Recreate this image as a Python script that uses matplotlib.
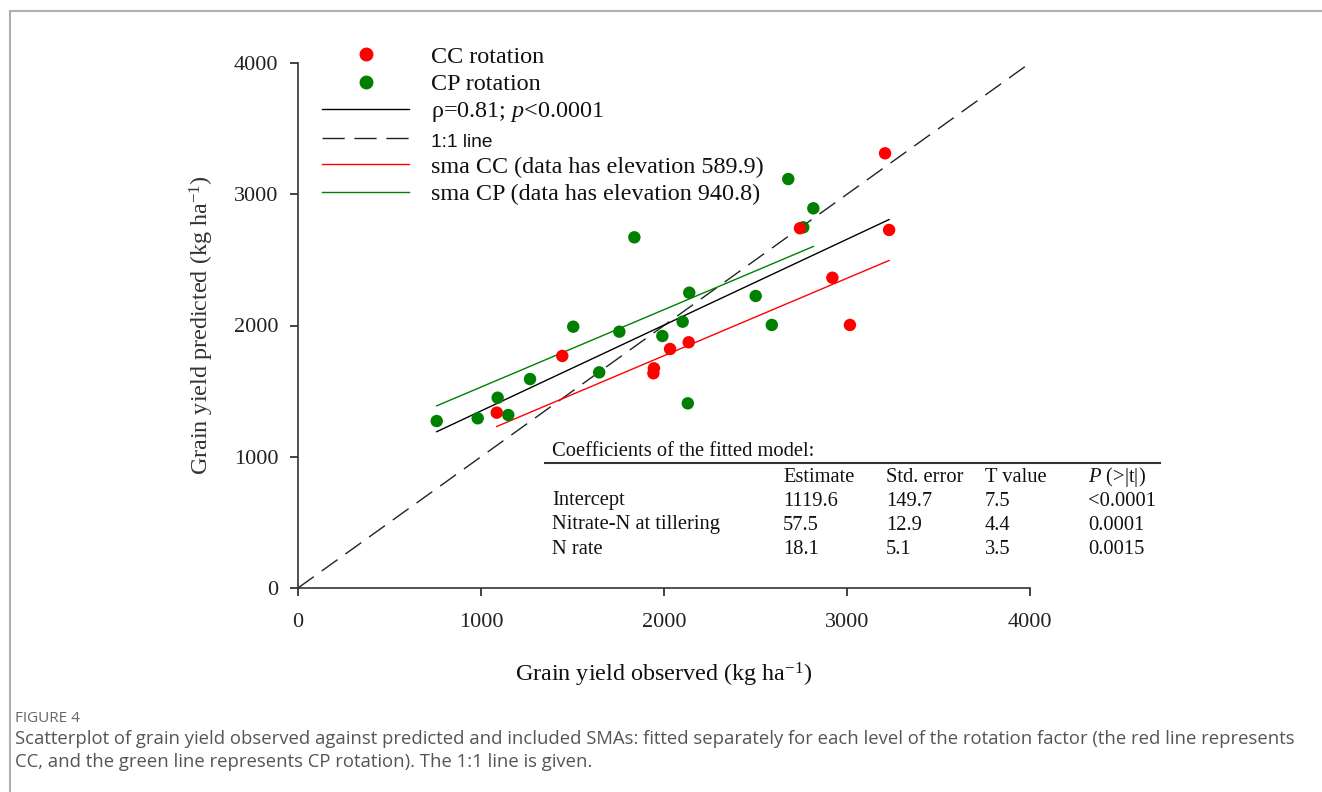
import numpy as np
import matplotlib.pyplot as plt
from matplotlib.lines import Line2D

plt.rcParams['font.family'] = ['Liberation Serif', 'DejaVu Serif']
plt.rcParams['mathtext.fontset'] = 'custom'
plt.rcParams['mathtext.rm'] = 'Liberation Serif'
plt.rcParams['mathtext.it'] = 'Liberation Serif:italic'

# observed / predicted grain yield (kg/ha)
cc_obs = [3208, 3230, 2920, 3016, 2743, 1444, 2033, 2135, 1945, 1942, 1086]
cc_pred = [3312, 2728, 2364, 2004, 2741, 1768, 1821, 1872, 1674, 1636, 1336]
cp_obs = [758, 982, 1091, 1149, 1268, 1504, 1646, 1756, 1838, 1991, 2102,
          2138, 2130, 2501, 2589, 2679, 2761, 2816]
cp_pred = [1272, 1293, 1450, 1318, 1592, 1991, 1643, 1953, 2672, 1920, 2029,
           2250, 1407, 2225, 2004, 3116, 2748, 2893]

# fitted lines: (intercept, slope)
all_fit = (695.0, 0.654)
sma_slope = 0.59
sma_elev = {'CC': 589.9, 'CP': 940.8}

# coefficient table
tab_head = ['', 'Estimate', 'Std. error', 'T value', '$\\it{P}$ (>|t|)']
tab_rows = [['Intercept', '1119.6', '149.7', '7.5', '<0.0001'],
            ['Nitrate-N at tillering', '57.5', '12.9', '4.4', '0.0001'],
            ['N rate', '18.1', '5.1', '3.5', '0.0015']]

caption = ['Scatterplot of grain yield observed against predicted and included SMAs: fitted separately '
           'for each level of the rotation factor (the red line represents',
           'CC, and the green line represents CP rotation). The 1:1 line is given.']

W, H = 1322, 792
fig = plt.figure(figsize=(W / 100, H / 100), dpi=100)
ax = fig.add_axes([298 / W, 1 - 588 / H, 732 / W, 525 / H])

red = '#ff0000'
green = '#008000'

ax.plot([0, 4000], [0, 4000], color='#222222', lw=1, dashes=(14, 7), zorder=2)
xa = np.array([min(cc_obs + cp_obs), max(cc_obs + cp_obs)])
ax.plot(xa, all_fit[0] + all_fit[1] * xa, color='black', lw=1, zorder=2)
xr = np.array([min(cc_obs), max(cc_obs)])
ax.plot(xr, sma_elev['CC'] + sma_slope * xr, color=red, lw=1, zorder=2)
xg = np.array([min(cp_obs), max(cp_obs)])
ax.plot(xg, sma_elev['CP'] + sma_slope * xg, color=green, lw=1, zorder=2)

ax.scatter(cp_obs, cp_pred, s=80, color=green, edgecolors='none', zorder=3)
ax.scatter(cc_obs, cc_pred, s=80, color=red, edgecolors='none', zorder=3)

ax.set_xlim(0, 4000)
ax.set_ylim(0, 4000)
ax.set_xticks([0, 1000, 2000, 3000, 4000])
ax.set_yticks([0, 1000, 2000, 3000, 4000])
ax.tick_params(direction='out', length=6, width=1.2, labelsize=16, colors='#222222')
ax.tick_params(axis='x', pad=12)
ax.tick_params(axis='y', pad=8)
for s in ['top', 'right']:
    ax.spines[s].set_visible(False)
for s in ['left', 'bottom']:
    ax.spines[s].set_linewidth(1.2)
    ax.spines[s].set_color('#333333')
ax.set_xlabel('Grain yield observed (kg ha$^{\\mathregular{-1}}$)', fontsize=17.4, labelpad=21,
              color='#111111')
ax.set_ylabel('Grain yield predicted (kg ha$^{\\mathregular{-1}}$)', fontsize=17.4, labelpad=13,
              color='#333333')

handles = [
    Line2D([], [], ls='none', marker='o', ms=9, color=red),
    Line2D([], [], ls='none', marker='o', ms=9, color=green),
    Line2D([], [], color='black', lw=1),
    Line2D([], [], color='#222222', lw=1, dashes=(16, 7)),
    Line2D([], [], color=red, lw=1),
    Line2D([], [], color=green, lw=1),
]
labels = ['CC rotation', 'CP rotation', '\u03c1=0.81; $\\it{p}$<0.0001', '1:1 line',
          'sma CC (data has elevation 589.9)', 'sma CP (data has elevation 940.8)']
leg = fig.legend(handles, labels, loc='upper left', bbox_to_anchor=(322 / W, 1 - 46 / H),
                 frameon=False, fontsize=17.4, handlelength=3.6, handletextpad=0.9,
                 labelspacing=0.22, borderpad=0, borderaxespad=0)
for t in leg.get_texts():
    t.set_color('#111111')
leg.get_texts()[3].set_fontfamily(['Liberation Sans', 'DejaVu Sans'])
leg.get_texts()[3].set_fontsize(13.8)

# coefficients table
def ftext(x, y, s, **kw):
    fig.text(x / W, 1 - y / H, s, va='center', ha='left', fontsize=14.8, color='#111111', **kw)

ftext(552, 452, 'Coefficients of the fitted model:')
fig.add_artist(Line2D([545 / W, 1160 / W], [1 - 463 / H, 1 - 463 / H], color='#333333', lw=1.5))
col_x = [552, 783, 886, 985, 1088]
for j, h in enumerate(tab_head):
    if h:
        ftext(col_x[j], 477, h)
for i, row in enumerate(tab_rows):
    for j, v in enumerate(row):
        ftext(col_x[j], 501 + 24 * i, v)

# page frame and caption
fig.add_artist(Line2D([10 / W, 1], [1 - 11 / H, 1 - 11 / H], color='#b0b0b0', lw=1.5))
fig.add_artist(Line2D([10 / W, 10 / W], [0, 1 - 11 / H], color='#b0b0b0', lw=1.5))
fig.text(15 / W, 1 - 719 / H, 'FIGURE 4', fontsize=11, color='#666666',
         family=['Open Sans', 'DejaVu Sans'], va='center')
for k, line in enumerate(caption):
    fig.text(15 / W, 1 - (739 + 23 * k) / H, line, fontsize=13.3, color='#555555',
             family=['Open Sans', 'DejaVu Sans'], va='center')

fig.savefig('out.png', dpi=100)
